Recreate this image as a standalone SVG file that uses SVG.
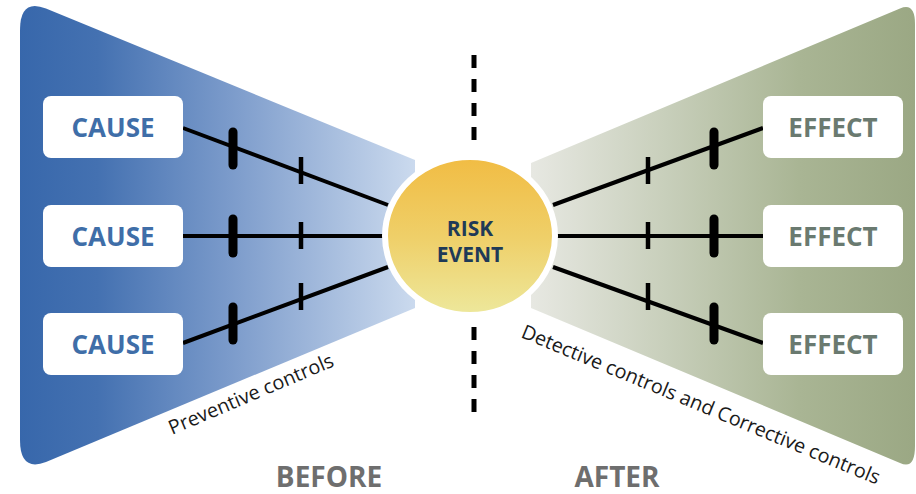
<svg xmlns="http://www.w3.org/2000/svg" width="916" height="494" viewBox="0 0 916 494">
  <defs>
    <linearGradient id="gradBefore" gradientUnits="userSpaceOnUse" x1="18" y1="0" x2="415" y2="0">
      <stop offset="0" stop-color="#3767ab"/>
      <stop offset="0.2" stop-color="#4471b1"/>
      <stop offset="0.55" stop-color="#7e9dcc"/>
      <stop offset="1" stop-color="#cbdaee"/>
    </linearGradient>
    <linearGradient id="gradAfter" gradientUnits="userSpaceOnUse" x1="531" y1="0" x2="914" y2="0">
      <stop offset="0" stop-color="#e7e8e2"/>
      <stop offset="0.35" stop-color="#c8cfbb"/>
      <stop offset="0.7" stop-color="#a9b594"/>
      <stop offset="1" stop-color="#9ba884"/>
    </linearGradient>
    <linearGradient id="gradRisk" x1="0" y1="0" x2="0" y2="1">
      <stop offset="0" stop-color="#f1bc43"/>
      <stop offset="0.5" stop-color="#efcf68"/>
      <stop offset="1" stop-color="#ede89c"/>
    </linearGradient>
  </defs>
  <style>
    .box { fill: #ffffff; }
    .cause { font-family: "Open Sans", "Liberation Sans", sans-serif; font-weight: bold; font-size: 26px; fill: #3f6ea8; text-anchor: middle; }
    .effect { font-family: "Open Sans", "Liberation Sans", sans-serif; font-weight: bold; font-size: 26px; fill: #6a7a70; text-anchor: middle; }
    .risk { font-family: "Open Sans", "Liberation Sans", sans-serif; font-weight: bold; font-size: 21px; fill: #1f3a57; text-anchor: middle; }
    .phase { font-family: "Open Sans", "Liberation Sans", sans-serif; font-weight: bold; font-size: 28px; fill: #6e6e6e; text-anchor: middle; }
    .note { font-family: "Open Sans", "Liberation Sans", sans-serif; font-size: 19.8px; fill: #1a1a1a; }
    .link { stroke: #000000; stroke-width: 4; fill: none; }
    .barrier { stroke: #000000; stroke-width: 9; stroke-linecap: round; }
    .barrier-thin { stroke: #000000; stroke-width: 4.5; }
    .divider { stroke: #000000; stroke-width: 5; stroke-dasharray: 13 11; stroke-linecap: butt; }
  </style>

  <!-- fans -->
  <path id="fan-before" fill="url(#gradBefore)" d="M 20,30 Q 20,-2 46,8.5 L 415,160 L 415,308 L 46,462 Q 20,472 20,440 Z"/>
  <path id="fan-after" fill="url(#gradAfter)" d="M 531,163 L 900,8.5 Q 915,2 915,24 L 915,446 Q 915,470 900,463 L 531,308 Z"/>

  <!-- time divider -->
  <line class="divider" x1="474" y1="55" x2="474" y2="144"/>
  <line class="divider" x1="474" y1="327" x2="474" y2="416"/>

  <!-- connectors with barriers -->
  <g id="connectors">
    <line class="link" x1="183" y1="128" x2="388" y2="205"/>
    <line class="link" x1="183" y1="236" x2="388" y2="236"/>
    <line class="link" x1="183" y1="343" x2="388" y2="267"/>
    <line class="link" x1="553" y1="205" x2="763" y2="128"/>
    <line class="link" x1="553" y1="236" x2="763" y2="236"/>
    <line class="link" x1="553" y1="267" x2="763" y2="343"/>

    <line class="barrier" x1="233" y1="132" x2="233" y2="165"/>
    <line class="barrier-thin" x1="301" y1="157" x2="301" y2="184"/>
    <line class="barrier" x1="233" y1="219" x2="233" y2="253"/>
    <line class="barrier-thin" x1="301" y1="222" x2="301" y2="249"/>
    <line class="barrier" x1="233" y1="307" x2="233" y2="340"/>
    <line class="barrier-thin" x1="301" y1="283" x2="301" y2="310"/>

    <line class="barrier-thin" x1="648" y1="157" x2="648" y2="184"/>
    <line class="barrier" x1="714" y1="132" x2="714" y2="165"/>
    <line class="barrier-thin" x1="648" y1="222" x2="648" y2="249"/>
    <line class="barrier" x1="714" y1="219" x2="714" y2="253"/>
    <line class="barrier-thin" x1="648" y1="283" x2="648" y2="310"/>
    <line class="barrier" x1="714" y1="307" x2="714" y2="340"/>
  </g>

  <!-- central event -->
  <g id="risk-event">
    <ellipse cx="470" cy="236" rx="85" ry="79" fill="url(#gradRisk)" stroke="#ffffff" stroke-width="6"/>
    <text class="risk" x="470" y="236">RISK<tspan x="470" dy="26">EVENT</tspan></text>
  </g>

  <!-- causes -->
  <g id="cause-1">
    <rect class="box" x="43" y="96" width="140" height="62" rx="8"/>
    <text class="cause" x="113" y="137">CAUSE</text>
  </g>
  <g id="cause-2">
    <rect class="box" x="43" y="205" width="140" height="62" rx="8"/>
    <text class="cause" x="113" y="246">CAUSE</text>
  </g>
  <g id="cause-3">
    <rect class="box" x="43" y="313" width="140" height="62" rx="8"/>
    <text class="cause" x="113" y="354">CAUSE</text>
  </g>

  <!-- effects -->
  <g id="effect-1">
    <rect class="box" x="763" y="96" width="140" height="62" rx="8"/>
    <text class="effect" x="833" y="137">EFFECT</text>
  </g>
  <g id="effect-2">
    <rect class="box" x="763" y="205" width="140" height="62" rx="8"/>
    <text class="effect" x="833" y="246">EFFECT</text>
  </g>
  <g id="effect-3">
    <rect class="box" x="763" y="313" width="140" height="62" rx="8"/>
    <text class="effect" x="833" y="354">EFFECT</text>
  </g>

  <!-- control labels -->
  <text class="note" transform="translate(172,435) rotate(-23)">Preventive controls</text>
  <text class="note" transform="translate(520,337) rotate(22.5)">Detective controls and Corrective controls</text>

  <!-- phases -->
  <text class="phase" x="329" y="487">BEFORE</text>
  <text class="phase" x="617" y="487">AFTER</text>
</svg>
